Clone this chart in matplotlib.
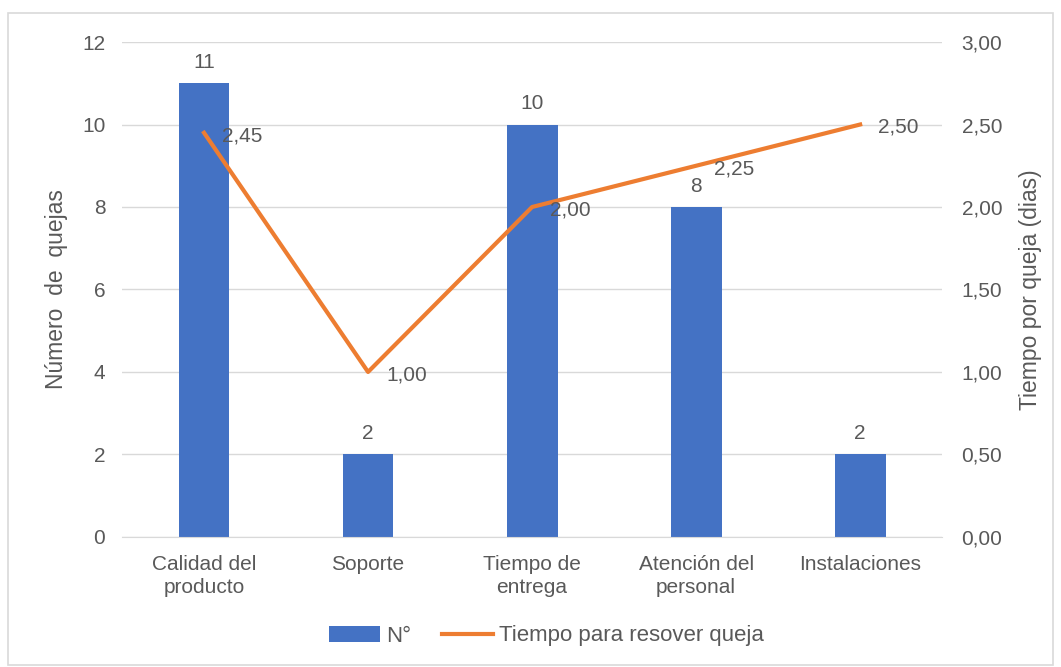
import matplotlib
matplotlib.use("Agg")
import matplotlib.pyplot as plt
from matplotlib.patches import Rectangle
import numpy as np

categories = ["Calidad del\nproducto", "Soporte", "Tiempo de\nentrega", "Atención del\npersonal", "Instalaciones"]
quejas = [11, 2, 10, 8, 2]
tiempo = [2.45, 1.00, 2.00, 2.25, 2.50]
left_ticks = [0, 2, 4, 6, 8, 10, 12]
right_ticks = [0.0, 0.5, 1.0, 1.5, 2.0, 2.5, 3.0]

plt.rcParams['font.family'] = ['Liberation Sans', 'DejaVu Sans']
txt = "#595959"
bar_c = "#4472C4"
line_c = "#ED7D31"
fs = 15

fig = plt.figure(figsize=(10.61, 6.67), dpi=100)
ax = fig.add_axes([0.115, 0.195, 0.773, 0.742])
x = np.arange(len(categories))
bars = ax.bar(x, quejas, width=0.31, color=bar_c, label="N°", zorder=2)
ax.set_ylim(0, 12)
ax.set_xlim(-0.5, len(categories) - 0.5)
ax.set_yticks(left_ticks)
ax.set_xticks(x)
ax.set_xticklabels(categories, fontsize=fs, color=txt, linespacing=1.3)
ax.tick_params(axis='y', labelsize=fs, colors=txt, length=0, pad=12)
ax.tick_params(axis='x', length=0, pad=13)
ax.grid(axis='y', color="#d9d9d9", linewidth=1, zorder=0)
for s in ["top", "left", "right"]:
    ax.spines[s].set_visible(False)
ax.spines["bottom"].set_color("#d9d9d9")
ax.set_ylabel("Número  de  quejas", fontsize=16.5, color=txt, labelpad=10)
for xi, v in zip(x, quejas):
    ax.annotate(str(v), (xi, v), xytext=(0, 8), textcoords="offset points",
                ha="center", va="bottom", fontsize=fs, color=txt)

ax2 = ax.twinx()
ln, = ax2.plot(x, tiempo, color=line_c, linewidth=3, label="Tiempo para resover queja", zorder=3)
ax2.set_ylim(0, 3)
ax2.set_yticks(right_ticks)
ax2.set_yticklabels([f"{t:.2f}".replace(".", ",") for t in right_ticks])
ax2.tick_params(axis='y', labelsize=fs, colors=txt, length=0, pad=14)
for s in ["top", "left", "right", "bottom"]:
    ax2.spines[s].set_visible(False)
ax2.set_ylabel("Tiempo por queja (dias)", fontsize=16.5, color=txt, labelpad=12)
for xi, v in zip(x, tiempo):
    ax2.annotate(f"{v:.2f}".replace(".", ","), (xi, v), xytext=(13, -2), textcoords="offset points",
                 ha="left", va="center", fontsize=fs, color=txt)

fig.legend([bars, ln], ["N°", "Tiempo para resover queja"], loc="center",
           bbox_to_anchor=(0.515, 1 - 636 / 667), ncol=2, frameon=False, fontsize=16,
           labelcolor=txt, handlelength=2.3, columnspacing=1.4, handletextpad=0.25)

fig.patches.append(Rectangle((8 / 1061, 2 / 667), 1045 / 1061, 652 / 667, transform=fig.transFigure,
                             fill=False, edgecolor="#d9d9d9", linewidth=1.2))
fig.savefig("out.png", dpi=100)
